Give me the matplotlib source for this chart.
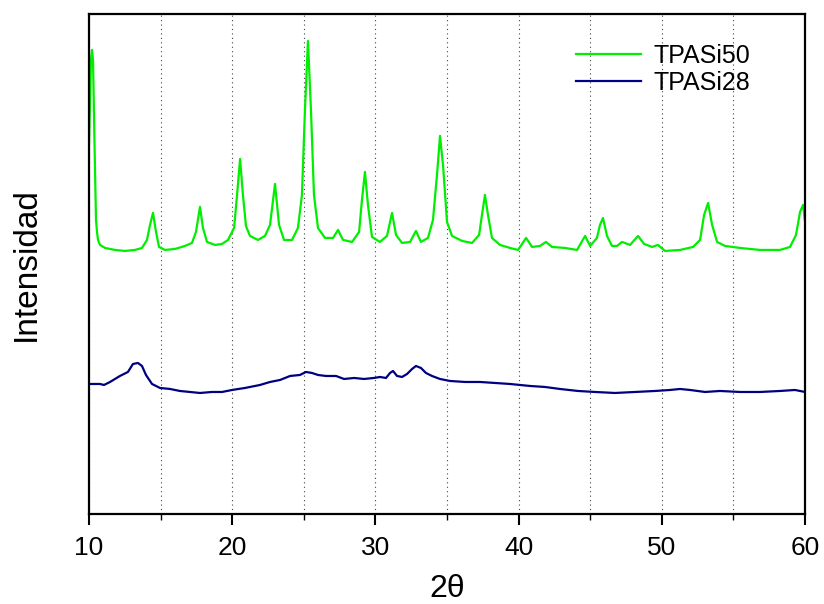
import numpy as np
import matplotlib.pyplot as plt
from matplotlib.ticker import MultipleLocator

plt.rcParams['font.family'] = ['Liberation Sans', 'DejaVu Sans']

# TPASi50 pattern (2theta in degrees, intensity a.u.)
tpasi50_x = [10.00, 10.14, 10.21, 10.28, 10.42, 10.49, 10.56, 10.63, 10.77,
             11.12, 11.82, 12.51, 13.21, 13.70, 14.05, 14.26, 14.47, 14.68, 14.89,
             15.31, 16.01, 16.70, 17.19, 17.47, 17.75, 17.96, 18.24, 18.80, 19.29,
             19.71, 20.13, 20.34, 20.55, 20.75, 20.96, 21.24, 21.80, 22.29, 22.64,
             22.99, 23.27, 23.62, 24.18, 24.59, 24.87, 25.08, 25.29, 25.50, 25.71,
             25.99, 26.48, 27.04, 27.39, 27.74, 28.37, 28.86, 29.06, 29.27, 29.48,
             29.76, 30.31, 30.81, 31.16, 31.44, 31.86, 32.42, 32.83, 33.18, 33.67,
             34.02, 34.30, 34.51, 34.72, 35.00, 35.35, 36.05, 36.75, 37.24, 37.44,
             37.65, 37.86, 38.14, 38.70, 39.40, 39.96, 40.52, 40.94, 41.49, 41.91,
             42.33, 43.24, 44.08, 44.64, 44.99, 45.47, 45.68, 45.89, 46.17, 46.52,
             46.87, 47.22, 47.78, 48.34, 48.76, 49.32, 49.73, 50.22, 51.27, 52.18,
             52.67, 52.95, 53.23, 53.51, 53.86, 54.41, 55.46, 56.86, 58.25, 58.95,
             59.37, 59.65, 59.86, 60.00]
tpasi50_y = [369, 454, 464, 454, 344, 294, 282, 274, 269,
             266, 264, 263, 264, 266, 274, 289, 301, 282, 267,
             264, 265, 268, 271, 282, 307, 286, 272, 269, 270,
             274, 286, 319, 355, 319, 288, 278, 274, 278, 289,
             330, 289, 274, 274, 286, 319, 404, 473, 404, 319,
             286, 276, 276, 284, 274, 272, 282, 314, 342, 309,
             277, 272, 278, 301, 279, 271, 272, 283, 272, 276,
             294, 339, 378, 349, 292, 278, 273, 271, 279, 299,
             319, 299, 276, 269, 266, 264, 276, 267, 268, 272,
             267, 266, 264, 278, 268, 276, 289, 296, 278, 268,
             268, 272, 269, 278, 270, 267, 269, 263, 264, 267,
             274, 299, 311, 289, 272, 268, 266, 264, 264, 267,
             279, 302, 309, 292]

# TPASi28 pattern
tpasi28_x = [10.00, 10.77, 11.05, 11.47, 12.16, 12.72, 13.07, 13.42, 13.70, 13.98,
             14.40, 14.96, 15.66, 16.35, 17.05, 17.75, 18.59, 19.29, 19.99, 20.89,
             21.94, 22.64, 23.34, 24.04, 24.73, 25.15, 25.57, 25.99, 26.55, 27.25,
             27.81, 28.51, 29.20, 29.90, 30.32, 30.74, 31.02, 31.23, 31.51, 31.86,
             32.21, 32.56, 32.83, 33.18, 33.53, 33.95, 34.51, 35.21, 36.26, 37.30,
             38.35, 39.40, 40.10, 40.80, 41.84, 42.89, 44.15, 45.34, 46.73, 48.13,
             49.53, 50.57, 51.27, 51.97, 53.02, 54.06, 55.46, 56.86, 58.25, 59.30,
             60.00]
tpasi28_y = [130, 130, 129, 132, 138, 142, 150, 151, 148, 139,
             130, 126, 125, 123, 122, 121, 122, 122, 124, 126,
             129, 132, 134, 138, 139, 142, 141, 139, 138, 138,
             135, 136, 135, 136, 137, 136, 141, 143, 138, 137,
             140, 145, 148, 146, 141, 138, 135, 133, 132, 132,
             131, 130, 129, 128, 127, 125, 123, 122, 121, 122,
             123, 124, 125, 124, 122, 123, 122, 122, 123, 124,
             122]

fig = plt.figure(figsize=(8.24, 6.04), dpi=100)
ax = fig.add_axes([0.108, 0.149, 0.869, 0.828])

ax.plot(tpasi50_x, tpasi50_y, color='#00ee00', lw=1.6, label='TPASi50')
ax.plot(tpasi28_x, tpasi28_y, color='#000080', lw=1.6, label='TPASi28')

ax.set_xlim(10, 60)
ax.set_ylim(0, 500)
ax.xaxis.set_major_locator(MultipleLocator(10))
ax.xaxis.set_minor_locator(MultipleLocator(5))
ax.set_yticks([])
ax.grid(axis='x', which='both', linestyle=(0, (1, 3)), color='#444444', lw=0.8)
ax.tick_params(axis='x', which='major', direction='out', length=8, width=1.5,
               labelsize=19, pad=8)
ax.tick_params(axis='x', which='minor', direction='out', length=4, width=1.0)
for s in ax.spines.values():
    s.set_linewidth(1.6)

ax.set_xlabel('2θ', fontsize=23, labelpad=10)
ax.set_ylabel('Intensidad', fontsize=24, labelpad=34)

ax.legend(loc='upper right', bbox_to_anchor=(0.955, 0.985), frameon=False,
          fontsize=18, handlelength=2.6, handletextpad=0.5, labelspacing=0.12)

fig.savefig('out.png', dpi=100)
